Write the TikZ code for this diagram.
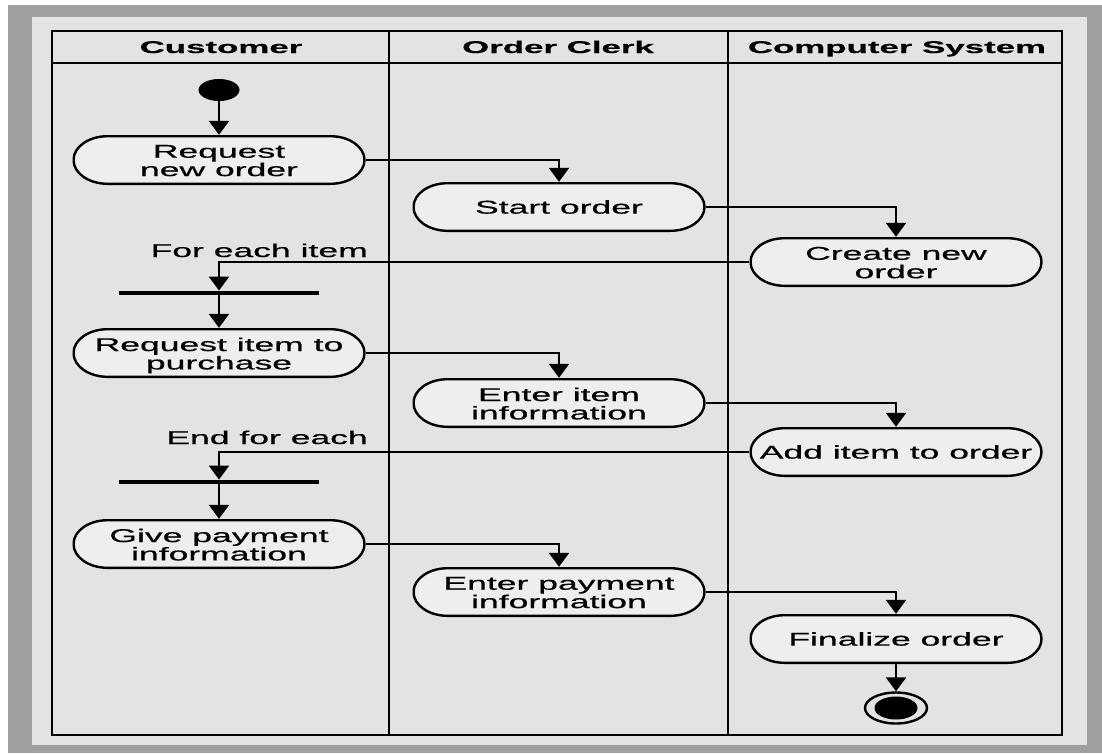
\documentclass[tikz,border=0pt]{standalone}
\usepackage{fontspec}
\setmainfont{Liberation Sans}
\newfontface\actfont{Liberation Sans}[FakeBold=0.45]
\newfontface\headfont{Liberation Sans Bold}[FakeBold=0.35]
\usetikzlibrary{arrows.meta,shapes.geometric}
\definecolor{outerband}{HTML}{A0A0A0}
\definecolor{panel}{HTML}{E3E3E3}
\definecolor{actfill}{HTML}{EEEEEE}
% wide lettering used throughout the chart; two-line labels sit a little low
\newcommand{\acttext}[1]{\raisebox{0pt}[\dimexpr\height+6pt\relax]{\scalebox{1.92}[1]{\begin{tabular}{@{}c@{}}#1\end{tabular}}}}
\newcommand{\actline}[1]{\scalebox{1.92}[1]{#1}}
\newcommand{\headtext}[1]{\scalebox{2.05}[1]{#1}}

\begin{document}
\begin{tikzpicture}[x=1pt,y=-1pt,
  lane/.style={line width=2.8pt,draw=black},
  flow/.style={line width=2.4pt,-{Triangle[width=20pt,length=14pt]}},
  txt/.style={inner sep=0pt,font=\actfont\fontsize{18.5}{16.5}\selectfont,text=black},
  head/.style={inner sep=0pt,font=\headfont\fontsize{17}{20}\selectfont,text=black},
  act/.style={rectangle,inner sep=0pt,minimum width=293pt,minimum height=50pt,
     fill=panel,font=\actfont\fontsize{18.5}{16.5}\selectfont,text=black,
     path picture={\draw[line width=2.4pt,fill=actfill]
        ([xshift=35pt,yshift=-1.2pt]path picture bounding box.north west)
        -- ([xshift=-35pt,yshift=-1.2pt]path picture bounding box.north east)
        arc[start angle=90,end angle=-90,x radius=34pt,y radius=23.8pt]
        -- ([xshift=35pt,yshift=1.2pt]path picture bounding box.south west)
        arc[start angle=270,end angle=90,x radius=34pt,y radius=23.8pt]
        -- cycle;}},
  bar/.style={rectangle,fill=black,inner sep=0pt,minimum width=200pt,minimum height=4.5pt},
  initial/.style={ellipse,fill=black,inner sep=0pt,minimum width=41pt,minimum height=22pt},
  finalring/.style={ellipse,draw=black,line width=2.4pt,fill=panel,inner sep=0pt,minimum width=62pt,minimum height=31pt},
  finaldot/.style={ellipse,fill=black,inner sep=0pt,minimum width=43pt,minimum height=23pt}
]
\useasboundingbox (0,0) rectangle (1102,753);

% frame and panel
\fill[white] (0,0) rectangle (1102,753);
\fill[outerband] (8,5) rectangle (1102,753);
\fill[panel] (32,17) rectangle (1087,745);

% swimlanes
\draw[lane] (52,31) rectangle (1062,735);
\draw[lane] (52,63) -- (1062,63);
\draw[lane] (389,31) -- (389,735);
\draw[lane] (728,31) -- (728,735);

\node[head,anchor=base] (hcust) at (221,53) {\headtext{Customer}};
\node[head,anchor=base] (hclerk) at (558,53) {\headtext{Order Clerk}};
\node[head,anchor=base] (hsys) at (897,53) {\headtext{Computer System}};

% activities
\node[initial] (start) at (219,90) {};
\node[act] (rno) at (219,160) {\acttext{Request\\new order}};
\node[act] (so)  at (559,207) {\actline{Start order}};
\node[act] (cno) at (896,262) {\acttext{Create new\\order}};
\node[bar] (fork1) at (219,293) {};
\node[act] (rip) at (219,353) {\acttext{Request item to\\purchase}};
\node[act] (eii) at (559,403) {\acttext{Enter item\\information}};
\node[act] (aio) at (896,452) {\actline{Add item to order}};
\node[bar] (fork2) at (219,482) {};
\node[act] (gpi) at (219,544) {\acttext{Give payment\\information}};
\node[act] (epi) at (559,592) {\acttext{Enter payment\\information}};
\node[act] (fo)  at (896,639) {\actline{Finalize order}};
\node[finalring] (final) at (896,708) {};
\node[finaldot] (finalin) at (final.center) {};

% loop labels
\node[txt,anchor=base east] (lfor) at (368,257) {\actline{For each item}};
\node[txt,anchor=base east] (lend) at (368,444) {\actline{End for each}};

% control flow
\draw[flow] (start.south) -- (rno.north);
\draw[flow] (rno.east) -| (so.north);
\draw[flow] (so.east) -| (cno.north);
\draw[flow] (cno.west) -| (fork1.north);
\draw[flow] (fork1.south) -- (rip.north);
\draw[flow] (rip.east) -| (eii.north);
\draw[flow] (eii.east) -| (aio.north);
\draw[flow] (aio.west) -| (fork2.north);
\draw[flow] (fork2.south) -- (gpi.north);
\draw[flow] (gpi.east) -| (epi.north);
\draw[flow] (epi.east) -| (fo.north);
\draw[flow] (fo.south) -- (final.north);
\end{tikzpicture}
\end{document}
